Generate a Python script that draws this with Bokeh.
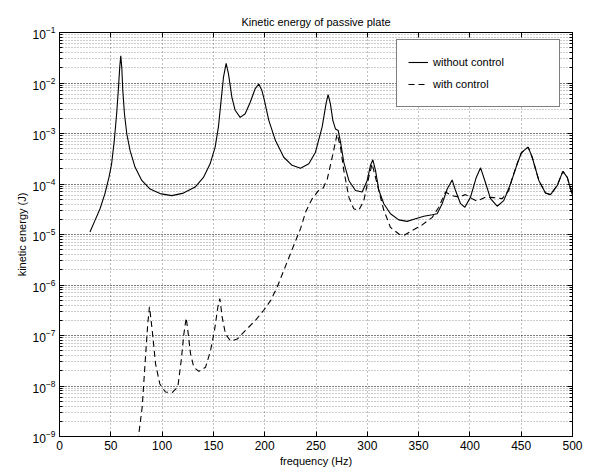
from bokeh.plotting import figure
from bokeh.models import (LogAxis, LinearAxis, FixedTicker, LogTicker, Legend, LegendItem,
                          CustomJSTickFormatter, Range1d)
from bokeh.embed import file_html
from bokeh.resources import INLINE

# ---- data ----
freq_without = [29.7, 34.6, 39.5, 44.3, 48.2, 50.8, 53.4, 55.7, 57.3, 58.7, 59.7, 60.7, 61.7, 63.3,
                65.6, 68.8, 73.7, 80.2, 88.3, 98, 109.4, 120.8, 132.2, 140.3, 146.8, 151.7, 154.9,
                157.5, 159.8, 162.4, 164.7, 168, 171.2, 176.1, 181, 185.9, 190.8, 194.2, 197.3,
                199.2, 204, 210.5, 218.6, 226.7, 234.9, 243, 249.5, 256, 259.8, 261.8, 264, 266.4,
                269, 271.6, 273.9, 277.1, 282, 288.5, 295, 299.9, 303.1, 305.4, 308, 311.3, 316.1,
                322.6, 330.7, 338.9, 347, 355.1, 363.3, 368.1, 373, 377.9, 382.7, 386, 390.9, 395.1,
                400.6, 406.2, 410.4, 414.5, 420.1, 426.6, 433, 439.6, 446.1, 450, 452.5, 456.8,
                460.7, 467.2, 473.7, 478.6, 485.1, 490.6, 494.9, 499.1, 500]
log_without = [-4.95, -4.72, -4.49, -4.19, -3.87, -3.60, -3.14, -2.61, -2.15, -1.69, -1.46, -1.69,
               -2.15, -2.61, -3.01, -3.34, -3.67, -3.93, -4.10, -4.19, -4.23, -4.18, -4.06, -3.87,
               -3.60, -3.27, -2.87, -2.35, -1.89, -1.61, -1.82, -2.28, -2.54, -2.68, -2.61, -2.38,
               -2.11, -2.02, -2.15, -2.30, -2.74, -3.14, -3.47, -3.63, -3.69, -3.60, -3.37, -2.87,
               -2.41, -2.23, -2.41, -2.74, -2.91, -2.94, -3.17, -3.57, -3.93, -4.13, -4.16, -3.93,
               -3.63, -3.52, -3.73, -4.13, -4.39, -4.59, -4.71, -4.74, -4.69, -4.64, -4.61, -4.59,
               -4.39, -4.10, -3.92, -4.13, -4.39, -4.46, -4.26, -3.87, -3.68, -3.93, -4.29, -4.44,
               -4.33, -4.00, -3.60, -3.39, -3.34, -3.27, -3.47, -3.93, -4.18, -4.21, -4.03, -3.75,
               -3.87, -4.16, -4.22]

freq_with = [75, 77.3, 80.6, 83.8, 86, 87.7, 90.4, 93.6, 97.8, 103.3, 109.8, 115.3, 118.6, 121.2,
             123.5, 125.1, 127.7, 130.9, 135.8, 142.3, 147.2, 151.1, 154.3, 156.3, 158.6, 161.8,
             166.7, 173.2, 181.3, 191, 199.1, 205.7, 212.2, 218.6, 225.1, 231.6, 235, 240, 246,
             252, 257, 261, 265.8, 270.6, 273.9, 277.1, 282, 286.8, 291.7, 296.6, 301.4, 304.7,
             309.6, 316.1, 322.6, 330.7, 335.6, 343.8, 353.5, 363.3, 369.7, 376.2, 382.7, 389.2,
             395.7, 402.2, 407.1, 415.2, 423.3, 431.5, 437.9, 441, 446.1, 450, 452.5, 456.8,
             460.7, 467.2, 473.7, 478.6, 485.1, 490.6, 494.9, 499.1, 500]
log_with = [-9.30, -8.95, -8.42, -7.43, -6.77, -6.43, -6.90, -7.56, -7.96, -8.12, -8.13, -8.02,
            -7.50, -6.97, -6.65, -6.90, -7.36, -7.63, -7.71, -7.63, -7.30, -6.90, -6.44, -6.27,
            -6.64, -6.97, -7.11, -7.07, -6.90, -6.70, -6.50, -6.31, -6.04, -5.71, -5.38, -5.05,
            -4.88, -4.55, -4.30, -4.14, -4.08, -3.90, -3.47, -3.01, -3.27, -3.73, -4.26, -4.49,
            -4.52, -4.33, -3.87, -3.60, -4.00, -4.52, -4.86, -4.99, -5.02, -4.92, -4.81, -4.66,
            -4.46, -4.16, -4.23, -4.26, -4.21, -4.29, -4.34, -4.26, -4.27, -4.29, -4.13, -3.90,
            -3.60, -3.39, -3.34, -3.27, -3.47, -3.93, -4.18, -4.21, -4.03, -3.75, -3.87, -4.16,
            -4.22]

x_ticks = [0, 50, 100, 150, 200, 250, 300, 350, 400, 450, 500]

title_text = "Kinetic energy of passive plate"
x_label = "frequency (Hz)"
y_label = "kinetic energy (J)"
series_names = ["without control", "with control"]

val_without = [10 ** v for v in log_without]
val_with = [10 ** v for v in log_with]

FONT = "Liberation Sans"

p = figure(width=591, height=470, y_axis_type="log", output_backend="svg",
           toolbar_location=None, x_range=Range1d(0, 500), y_range=Range1d(1e-9, 1e-1),
           min_border_left=59, min_border_right=19, min_border_top=32, min_border_bottom=34,
           title=title_text)
p.background_fill_color = "white"
p.border_fill_color = "white"
p.outline_line_color = "black"
p.outline_line_width = 1

p.title.align = "center"
p.title.text_font = FONT
p.title.text_font_size = "11px"
p.title.text_font_style = "normal"
p.title.text_color = "black"
p.title.standoff = 10

l1 = p.line(freq_without, val_without, line_color="black", line_width=1.1)
l2 = p.line(freq_with, val_with, line_color="black", line_width=1.1, line_dash="6 4")

# axes
for ax in (p.xaxis[0], p.yaxis[0]):
    ax.major_tick_in = 5
    ax.major_tick_out = 0
    ax.minor_tick_in = 3
    ax.minor_tick_out = 0
    ax.axis_line_color = "black"
    ax.major_tick_line_color = "black"
    ax.minor_tick_line_color = "black"
    ax.major_label_text_font = FONT
    ax.major_label_text_font_size = "12px"
    ax.major_label_text_color = "black"
    ax.axis_label_text_font = FONT
    ax.axis_label_text_font_size = "11px"
    ax.axis_label_text_font_style = "normal"
    ax.axis_label_text_color = "black"
    ax.major_label_standoff = 4
    ax.axis_label_standoff = 2

p.xaxis[0].ticker = FixedTicker(ticks=x_ticks)
p.xaxis[0].minor_tick_line_color = None
p.xaxis[0].axis_label = x_label
p.yaxis[0].ticker = LogTicker(num_minor_ticks=10)
p.yaxis[0].axis_label = y_label

top = LinearAxis(ticker=FixedTicker(ticks=x_ticks), formatter=CustomJSTickFormatter(code="return '';"),
                 major_tick_in=5, major_tick_out=0, minor_tick_line_color=None,
                 axis_line_color="black", major_label_standoff=0,
                 major_label_text_font_size="0px")
right = LogAxis(ticker=LogTicker(num_minor_ticks=10), formatter=CustomJSTickFormatter(code="return '';"),
                major_tick_in=5, major_tick_out=0, minor_tick_in=3, minor_tick_out=0,
                axis_line_color="black", major_label_standoff=0,
                major_label_text_font_size="0px")
p.add_layout(top, "above")
p.add_layout(right, "right")

# grids
p.xgrid.ticker = FixedTicker(ticks=x_ticks)
p.xgrid.grid_line_color = "black"
p.xgrid.grid_line_alpha = 0.5
p.xgrid.grid_line_dash = "1 3"
p.ygrid.grid_line_color = "black"
p.ygrid.grid_line_alpha = 0.45
p.ygrid.grid_line_dash = "1 2"
p.ygrid.minor_grid_line_color = "black"
p.ygrid.minor_grid_line_alpha = 0.4
p.ygrid.minor_grid_line_dash = "1 2"

legend = Legend(items=[LegendItem(label=series_names[0], renderers=[l1]),
                       LegendItem(label=series_names[1], renderers=[l2])],
                location=(337, 329))
legend.border_line_color = "black"
legend.border_line_width = 1.2
legend.background_fill_color = "white"
legend.background_fill_alpha = 1
legend.padding = 11
legend.spacing = 0
legend.margin = 0
legend.glyph_width = 20
legend.glyph_height = 22
legend.label_height = 22
legend.label_standoff = 5
legend.label_width = 115
legend.label_text_font = FONT
legend.label_text_font_size = "11px"
legend.label_text_color = "black"
p.add_layout(legend, "center")

open("out.html", "w").write(file_html(p, INLINE))
